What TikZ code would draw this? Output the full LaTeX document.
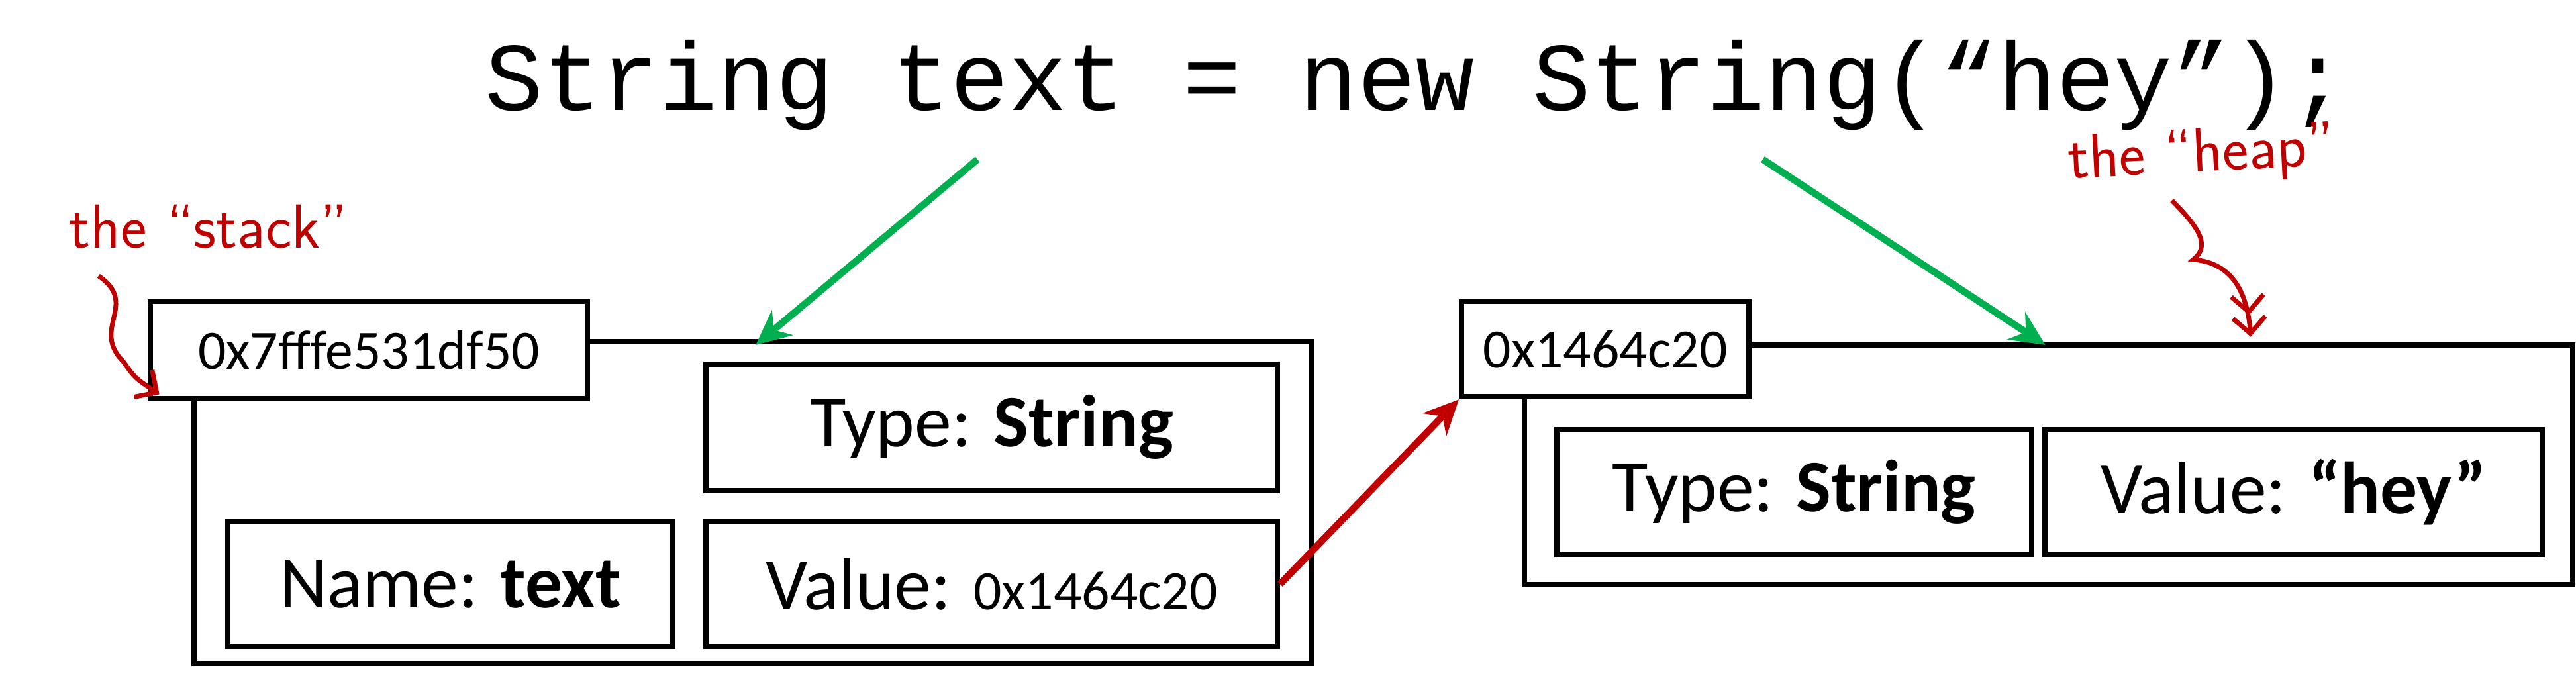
\documentclass[tikz,border=0pt]{standalone}
\usepackage{fontspec}
\setmainfont{Carlito}
\setmonofont{Liberation Mono}
\usetikzlibrary{arrows.meta}
\definecolor{gr}{RGB}{0,176,80}
\definecolor{dr}{RGB}{192,0,0}
\tikzset{
 box/.style={draw=black,line width=4.5pt,fill=white},
 big/.style={font=\fontsize{64}{70}\selectfont},
 mid/.style={font=\fontsize{48}{54}\selectfont},
 garrow/.style={draw=gr,line width=6pt,-{Stealth[length=30pt,width=28pt]}},
 rarrow/.style={draw=dr,line width=6pt,-{Stealth[length=30pt,width=28pt]}},
 hand/.style={text=dr,font=\fontsize{54}{58}\selectfont\sffamily},
}
\begin{document}
\begin{tikzpicture}[x=0.05cm,y=-0.05cm]
\useasboundingbox (0,0) rectangle (1568,416);
\node[font=\fontsize{84}{90}\selectfont\ttfamily,anchor=center] (code) at (862,52) {String text = new String(“hey”);};
% left
\path[box] (118,208) rectangle (798,404);
\node[box,minimum width=266*0.05cm,minimum height=59*0.05cm,anchor=north west,mid] (la) at (90,182) {0x7fffe531df50};
\node[box,minimum width=348*0.05cm,minimum height=77*0.05cm,anchor=north west,big] (lt) at (428,220) {Type: \textbf{String}};
\node[box,minimum width=271*0.05cm,minimum height=76*0.05cm,anchor=north west,big] (ln) at (137,316) {Name: \textbf{text}};
\node[box,minimum width=348*0.05cm,minimum height=76*0.05cm,anchor=north west,big] (lv) at (428,316) {Value: {\fontsize{48}{54}\selectfont 0x1464c20}};
% right
\path[box] (928,210) rectangle (1566,356);
\node[box,minimum width=175*0.05cm,minimum height=58*0.05cm,anchor=north west,mid] (ra) at (888,182) {0x1464c20};
\node[box,minimum width=289*0.05cm,minimum height=76*0.05cm,anchor=north west,big] (rt) at (946,260) {Type: \textbf{String}};
\node[box,minimum width=303*0.05cm,minimum height=76*0.05cm,anchor=north west,big] (rv) at (1243,260) {Value: \textbf{“hey”}};
% arrows
\coordinate (g1) at (595,97); \coordinate (g1e) at (460,210);
\coordinate (g2) at (1073,97); \coordinate (g2e) at (1245,210);
\draw[garrow] (g1) -- (g1e);
\draw[garrow] (g2) -- (g2e);
\draw[rarrow] (lv.east) -- (ra.south west);
% handwriting
\node[hand] (st) at (127,138) {the “stack”};
\draw[dr,line width=4pt,-{Straight Barb[length=14pt]}] (60,168) .. controls (85,185) and (55,200) .. (75,220) .. controls (82,230) .. (97,240);
\node[hand,rotate=3] (hp) at (1340,95) {the “heap”};
\draw[dr,line width=4pt,-{Straight Barb[length=14pt]Straight Barb[length=14pt]}] (1322,122) .. controls (1340,140) and (1345,150) .. (1335,158) .. controls (1360,160) and (1368,180) .. (1370,205);
\end{tikzpicture}
\end{document}
